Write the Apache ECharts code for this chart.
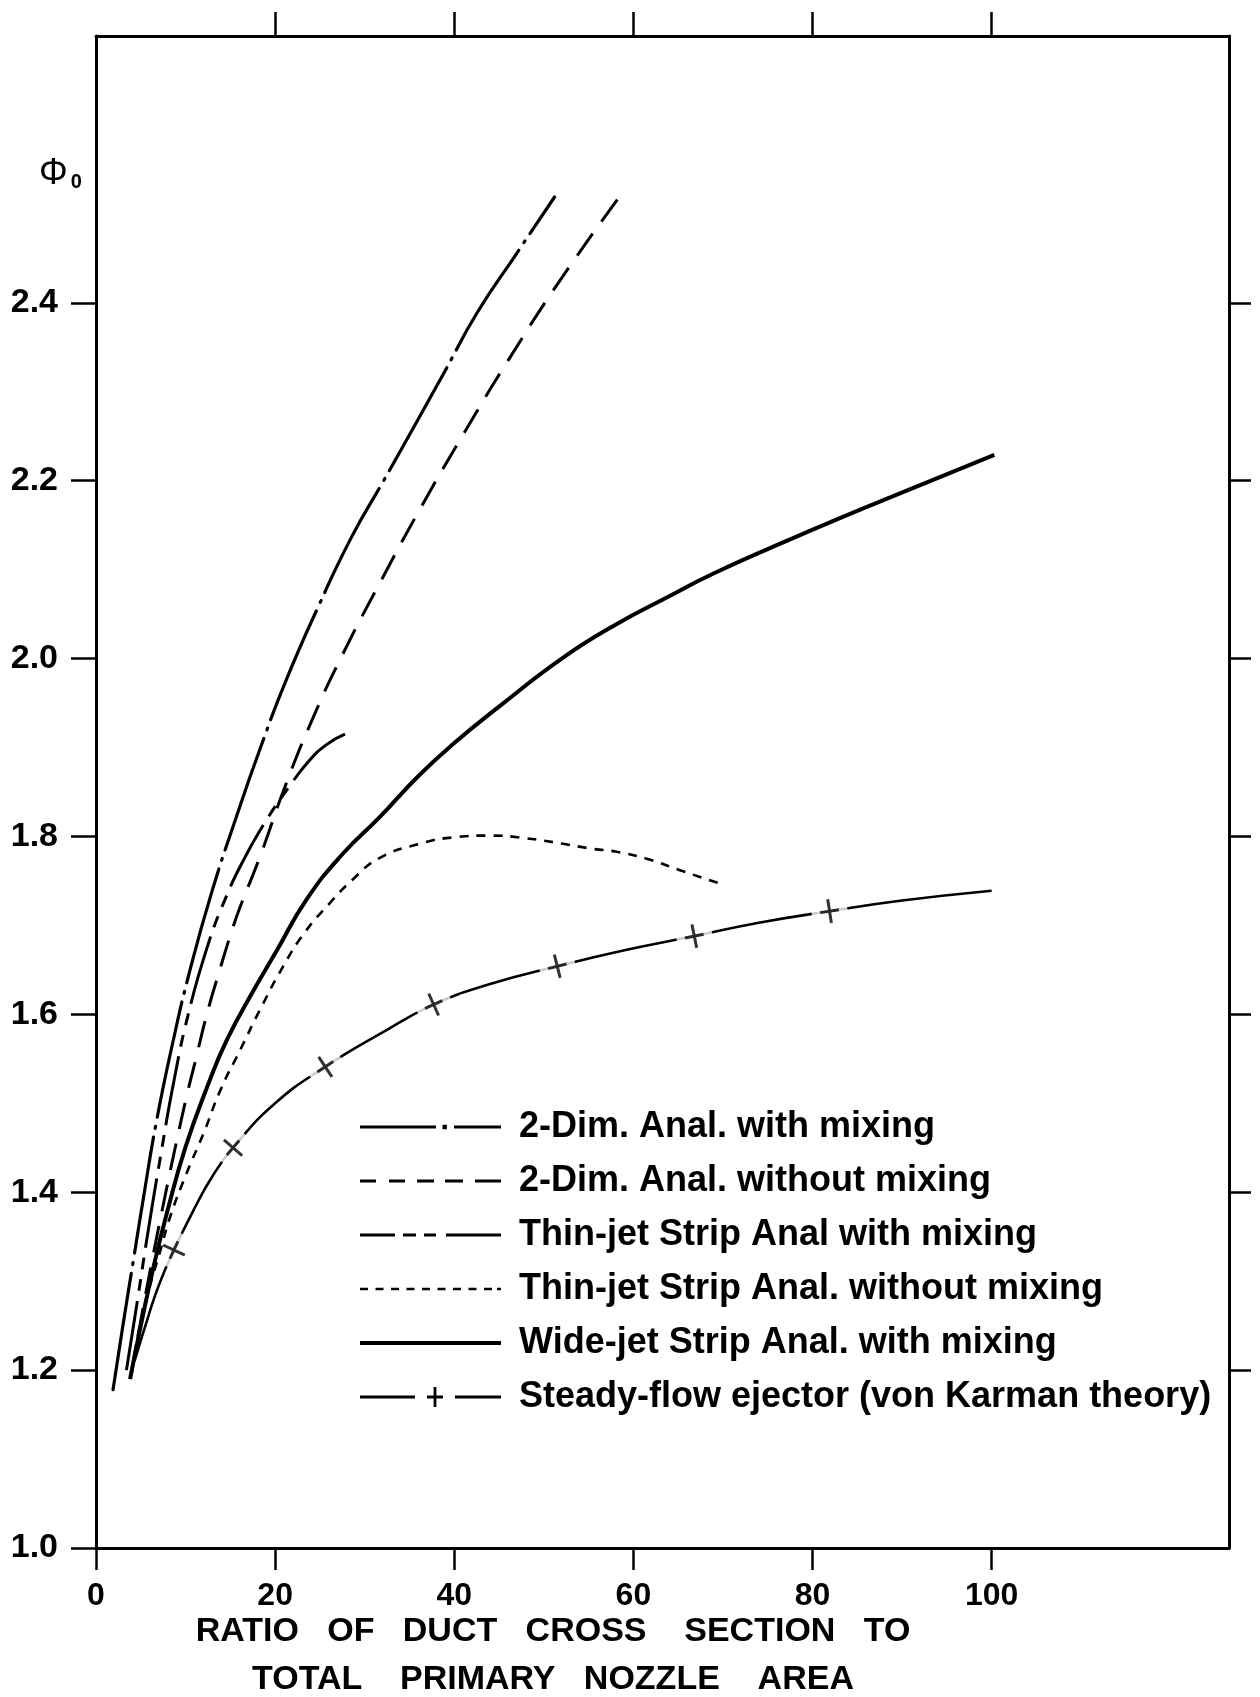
<!DOCTYPE html>
<html>
<head>
<meta charset="utf-8">
<script src="https://cdn.jsdelivr.net/npm/echarts@6/dist/echarts.min.js"></script>
<style>
html,body{margin:0;padding:0;background:#fff;}
#c{width:1260px;height:1697px;}
</style>
</head>
<body>
<div id="c"></div>
<script>
// ---------- data ----------
const xTickValues = [0, 20, 40, 60, 80, 100];
const xTopTickValues = [20, 40, 60, 80, 100];
const yTickValues = [1.0, 1.2, 1.4, 1.6, 1.8, 2.0, 2.2, 2.4];
const yRightTickValues = [1.2, 1.4, 1.6, 1.8, 2.0, 2.2, 2.4];

const seriesNames = [
  '2-Dim. Anal. with mixing',
  '2-Dim. Anal. without mixing',
  'Thin-jet Strip Anal with mixing',
  'Thin-jet Strip Anal. without mixing',
  'Wide-jet Strip Anal. with mixing',
  'Steady-flow ejector (von Karman theory)'
];

const twoDimMixing = [[1.9,1.178],[3,1.25],[4.2,1.325],[5.4,1.4],[6.7,1.477],[8.5,1.565],[10.6,1.654],[13,1.74],[15.6,1.82],[18.3,1.898],[21.2,1.975],[24.8,2.058],[28.5,2.136],[32,2.198],[35.3,2.257],[39,2.324],[42.5,2.388],[47,2.456],[51.2,2.519]];
const twoDimNoMixing = [[3.9,1.193],[4.9,1.25],[6.2,1.32],[7.9,1.405],[8.8,1.448],[10.1,1.507],[11.1,1.548],[12.4,1.601],[13.7,1.646],[15.2,1.695],[16.1,1.721],[18.3,1.777],[21.1,1.856],[24.3,1.935],[27.6,2.006],[31.9,2.089],[36,2.165],[41,2.252],[46,2.335],[52,2.428],[58.5,2.52]];
const thinJetMixing = [[3.4,1.2],[4.5,1.27],[5.8,1.355],[7.2,1.44],[8.7,1.525],[10.3,1.6],[12.4,1.675],[14.4,1.729],[16.5,1.774],[19,1.818],[21.5,1.855],[23.7,1.884],[25.7,1.903],[27.8,1.915]];
const thinJetNoMixing = [[4.0,1.2],[4.9,1.25],[6.0,1.294],[7.2,1.335],[8.3,1.373],[10.1,1.421],[12.0,1.466],[13.9,1.515],[16.1,1.56],[18.3,1.605],[20.9,1.654],[23.3,1.692],[26.1,1.725],[28.7,1.752],[31.7,1.776],[36.2,1.792],[40,1.799],[44,1.801],[48,1.798],[52,1.792],[55.5,1.786],[58,1.783],[61.5,1.775],[65.2,1.762],[70,1.746]];
const wideJetMixing = [[3.8,1.19],[4.9,1.245],[6.4,1.315],[8,1.38],[10,1.451],[12.4,1.518],[14.6,1.571],[17.6,1.627],[20.2,1.672],[23.5,1.729],[27.5,1.78],[31.7,1.822],[36,1.868],[40,1.905],[45,1.946],[52,2.0],[58,2.038],[64,2.07],[69,2.096],[77.5,2.134],[88.6,2.181],[100.3,2.229]];
const steadyFlow = [[4.3,1.21],[5.7,1.256],[7,1.295],[8.7,1.335],[11,1.382],[13,1.418],[15.3,1.45],[20,1.5],[25.6,1.541],[31.7,1.578],[37.7,1.611],[44,1.634],[51.5,1.654],[59,1.672],[66.8,1.688],[74,1.703],[81.9,1.716],[90,1.728],[100,1.739]];
const steadyMarkers = [[8.7,1.335],[15.3,1.45],[25.6,1.541],[37.7,1.611],[51.5,1.654],[66.8,1.688],[81.9,1.716]];

// ---------- layout / style ----------
const X_MAX = 126.5, Y_MIN = 1.0, Y_MAX = 2.7;
const GRID = {left: 96, right: 31, top: 36, bottom: 149};
const plotW = 1260 - GRID.left - GRID.right;
const plotH = 1697 - GRID.top - GRID.bottom;
const pxPerX = plotW / X_MAX, pxPerY = plotH / (Y_MAX - Y_MIN);
const FONT = 'Liberation Sans, Arial, Helvetica, sans-serif';

// local direction of steady-flow curve at a marker (degrees, screen space)
function markerAngle(value) {
  const x = value[0];
  let i = steadyFlow.findIndex(p => p[0] === x);
  if (i < 0) i = 1;
  const a = steadyFlow[Math.max(0, i - 1)], b = steadyFlow[Math.min(steadyFlow.length - 1, i + 1)];
  const s = ((b[1] - a[1]) * pxPerY) / ((b[0] - a[0]) * pxPerX);
  return Math.atan(s) * 180 / Math.PI;
}

// legend icons (drawn in a 154 x 20 box; tiny corner squares fix the box)
const IW = 154;
function seg(a, b, t) { t = t || 3; const y = 10 - t / 2; return `M${a},${y}h${b - a}v${t}h${a - b}z `; }
const box = `M0,0h0.05v0.05h-0.05z M${IW - 0.05},19.95h0.05v0.05h-0.05z `;
const legendIcons = [
  'path://' + box + seg(0, 76) + 'M82.5,7.8h4.4v4.4h-4.4z ' + seg(94, 141),
  'path://' + box + seg(0, 16) + seg(29, 45) + seg(57, 74) + seg(85, 103) + seg(115, 141),
  'path://' + box + seg(0, 35) + seg(43, 56) + seg(64, 76) + seg(86, 141),
  'path://' + box + [0, 15.5, 31, 46.5, 62, 77.5, 93, 108.5, 124].map(a => seg(a, a + 8, 2.6)).join('') + seg(137, 141, 2.6),
  'path://' + box + seg(0, 141, 4),
  'path://' + box + seg(0, 55) + seg(95, 141) + seg(67, 83, 2.8) + 'M73.6,0h2.8v20h-2.8z'
];

function curve(name, data, dash, width, cap) {
  return {
    name: name, type: 'line', data: data, smooth: 0.5,
    symbol: 'none', showSymbol: false, silent: true, z: 2,
    color: '#000', itemStyle: {color: '#000'},
    lineStyle: {color: '#000', width: width, type: dash, cap: cap || 'butt'}
  };
}

const chart = echarts.init(document.getElementById('c'), null, {renderer: 'canvas'});
chart.setOption({
  backgroundColor: '#fff',
  animation: false,
  grid: Object.assign({outerBoundsMode: 'none', containLabel: false}, GRID),
  title: {
    text: '{p|Φ}{s|0}', left: 34, top: 151,
    textStyle: {rich: {
      p: {fontFamily: FONT, fontSize: 36, fontWeight: 'normal', color: '#000'},
      s: {fontFamily: FONT, fontSize: 20, fontWeight: 'bold', color: '#000', padding: [16, 0, 0, 3]}
    }}
  },
  legend: {
    orient: 'vertical', left: 355, top: 1104,
    itemWidth: IW, itemHeight: 20, itemGap: 18,
    selectedMode: false,
    textStyle: {fontFamily: FONT, fontSize: 36, fontWeight: 'bold', color: '#000', lineHeight: 36},
    data: seriesNames.map((n, i) => ({name: n, icon: legendIcons[i], itemStyle: {color: '#000', opacity: 1}}))
  },
  graphic: [
    {type: 'text', x: 553, y: 1632, silent: true,
     style: {text: 'RATIO   OF   DUCT   CROSS    SECTION   TO', fontFamily: FONT, fontSize: 34, fontWeight: 'bold', fill: '#000', align: 'center', verticalAlign: 'middle'}},
    {type: 'text', x: 553, y: 1680, silent: true,
     style: {text: 'TOTAL    PRIMARY   NOZZLE    AREA', fontFamily: FONT, fontSize: 34, fontWeight: 'bold', fill: '#000', align: 'center', verticalAlign: 'middle'}}
  ],
  xAxis: [
    {type: 'value', position: 'bottom', min: 0, max: X_MAX, interval: 20,
     axisLine: {show: true, onZero: false, lineStyle: {color: '#000', width: 3}},
     axisTick: {show: true, length: 22, customValues: xTickValues, lineStyle: {color: '#000', width: 2.5}},
     axisLabel: {show: true, customValues: xTickValues, margin: 32, fontFamily: FONT, fontSize: 32, fontWeight: 'bold', color: '#000',
                 formatter: v => (v <= 100 ? String(v) : '')},
     splitLine: {show: false}},
    {type: 'value', position: 'top', min: 0, max: X_MAX, interval: 20,
     axisLine: {show: true, onZero: false, lineStyle: {color: '#000', width: 3}},
     axisTick: {show: true, length: 24, customValues: xTopTickValues, lineStyle: {color: '#000', width: 2.5}},
     axisLabel: {show: false}, splitLine: {show: false}}
  ],
  yAxis: [
    {type: 'value', position: 'left', min: Y_MIN, max: Y_MAX, interval: 0.2,
     axisLine: {show: true, onZero: false, lineStyle: {color: '#000', width: 3}},
     axisTick: {show: true, length: 25, customValues: yTickValues, lineStyle: {color: '#000', width: 2.5}},
     axisLabel: {show: true, customValues: yTickValues, margin: 38, fontFamily: FONT, fontSize: 34, fontWeight: 'bold', color: '#000',
                 formatter: v => v.toFixed(1)},
     splitLine: {show: false}},
    {type: 'value', position: 'right', min: Y_MIN, max: Y_MAX, interval: 0.2,
     axisLine: {show: true, onZero: false, lineStyle: {color: '#000', width: 3}},
     axisTick: {show: true, length: 22, customValues: yRightTickValues, lineStyle: {color: '#000', width: 2.5}},
     axisLabel: {show: false}, splitLine: {show: false}}
  ],
  series: [
    curve(seriesNames[0], twoDimMixing, [118, 9, 2, 9], 3.2, 'round'),
    curve(seriesNames[1], twoDimNoMixing, [27, 15], 3),
    curve(seriesNames[2], thinJetMixing, [70, 10, 12, 10, 12, 10], 3),
    curve(seriesNames[3], thinJetNoMixing, [9, 8], 2.6),
    curve(seriesNames[4], wideJetMixing, 'solid', 4),
    curve(seriesNames[5], steadyFlow, 'solid', 2.6),
    {name: 'markerGap', type: 'scatter', data: steadyMarkers, silent: true, z: 3,
     symbol: 'rect', symbolSize: [36, 9], symbolRotate: v => markerAngle(v),
     itemStyle: {color: '#fff'}},
    {name: 'markerCross', type: 'scatter', data: steadyMarkers, silent: true, z: 4,
     symbol: 'path://M-1.5,-12h3v24h-3z M-9.5,-1.5h19v3h-19z', symbolSize: [19, 24],
     symbolRotate: v => markerAngle(v), itemStyle: {color: '#000'}}
  ]
});
</script>
</body>
</html>
